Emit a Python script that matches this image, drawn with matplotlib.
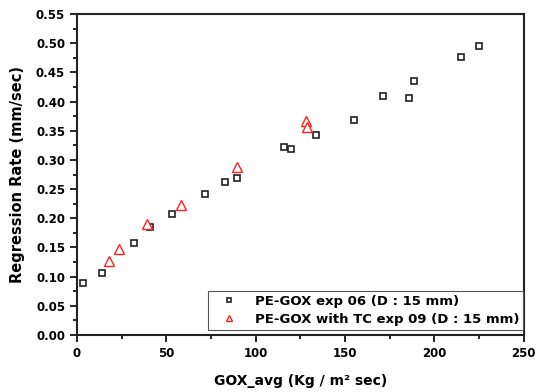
import numpy as np
import matplotlib
matplotlib.use("Agg")
import matplotlib.pyplot as plt
from matplotlib.ticker import MultipleLocator

# %% data
# PE-GOX exp 06 (D : 15 mm)
gox_06 = [3.4, 14, 32, 41, 53, 71.6, 83, 89.5, 116, 120, 133.5, 155, 171.3, 186, 188.6, 214.8, 224.7]
rate_06 = [0.089, 0.106, 0.158, 0.185, 0.207, 0.242, 0.262, 0.269, 0.322, 0.319, 0.343, 0.368,
           0.409, 0.406, 0.436, 0.476, 0.496]

# PE-GOX with TC exp 09 (D : 15 mm)
gox_09 = [17.7, 23.7, 39, 58, 89.5, 128, 128.6]
rate_09 = [0.127, 0.148, 0.190, 0.222, 0.288, 0.366, 0.356]

label_06 = "PE-GOX exp 06 (D : 15 mm)"
label_09 = "PE-GOX with TC exp 09 (D : 15 mm)"

plt.rcParams['font.family'] = ['DejaVu Sans']
plt.rcParams['font.weight'] = 'bold'

fig = plt.figure(figsize=(5.44, 3.92), dpi=100)
ax = fig.add_axes([0.1415, 0.1454, 0.8215, 0.8186])

ax.plot(gox_06, rate_06, ls='none', marker='s', ms=5.0, mfc='white', mec='#222222', mew=1.2,
        label=label_06)
ax.plot(gox_09, rate_09, ls='none', marker='^', ms=6.5, mfc='white', mec='#ff2020', mew=1.0,
        label=label_09)

ax.set_xlim(0, 250)
ax.set_ylim(0, 0.55)
ax.xaxis.set_major_locator(MultipleLocator(50))
ax.xaxis.set_minor_locator(MultipleLocator(25))
ax.yaxis.set_major_locator(MultipleLocator(0.05))
ax.yaxis.set_minor_locator(MultipleLocator(0.025))
ax.yaxis.set_major_formatter(matplotlib.ticker.FormatStrFormatter('%.2f'))

ax.tick_params(which='both', direction='out', width=1.2, labelsize=8.5, top=False, right=False)
ax.tick_params(which='major', length=5)
ax.tick_params(which='minor', length=3)
for lab in ax.get_xticklabels() + ax.get_yticklabels():
    lab.set_fontweight('bold')
for s in ax.spines.values():
    s.set_linewidth(1.5)
    s.set_color('#222222')

ax.set_xlabel("GOX_avg (Kg / m² sec)", fontsize=10, fontweight='bold', labelpad=10)
ax.set_ylabel("Regression Rate (mm/sec)", fontsize=10.5, fontweight='bold', labelpad=8)

leg = ax.legend(loc='lower right', bbox_to_anchor=(0.998, 0.0156), borderaxespad=0,
                fancybox=False, edgecolor='#555555', framealpha=1,
                prop={'size': 9.5, 'weight': 'bold'}, markerscale=0.7,
                handlelength=2.6, handletextpad=0.6, borderpad=0.3, labelspacing=0.4)
leg.get_frame().set_linewidth(0.8)

plt.savefig('out.png', dpi=100)
